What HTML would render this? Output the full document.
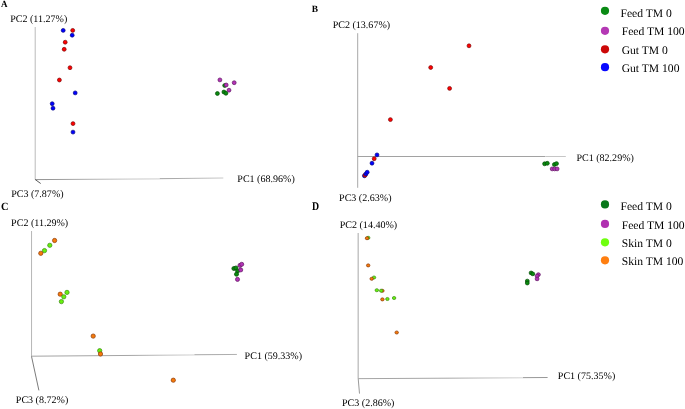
<!DOCTYPE html>
<html><head><meta charset="utf-8"><title>PCoA</title>
<style>
html,body{margin:0;padding:0;background:#fff;}
svg{display:block;font-family:"Liberation Serif",serif;fill:#000;}
text{text-rendering:geometricPrecision;filter:blur(0.25px);}
</style></head><body>
<svg width="685" height="409" viewBox="0 0 685 409">
<rect width="685" height="409" fill="#fff"/>
<text transform="translate(0.9,6.8) scale(0.97,1)" font-size="9.3" font-weight="bold">A</text>
<text x="10.2" y="22" font-size="10.05">PC2 (11.27%)</text>
<text x="11.15" y="197" font-size="10.05">PC3 (7.87%)</text>
<text x="237.3" y="182" font-size="10.05">PC1 (68.96%)</text>
<line x1="35.2" y1="27.0" x2="35.2" y2="179.5" stroke="#bababa" stroke-width="1"/>
<linearGradient id="g1" gradientUnits="userSpaceOnUse" x1="35.2" y1="179.6" x2="159.7" y2="178.9"><stop offset="0" stop-color="#8e8e8e"/><stop offset="0.75" stop-color="#c6c6c6"/><stop offset="1" stop-color="#cecece"/></linearGradient>
<line x1="35.2" y1="179.6" x2="159.7" y2="178.9" stroke="url(#g1)" stroke-width="1"/>
<linearGradient id="g2" gradientUnits="userSpaceOnUse" x1="159.7" y1="178.7" x2="223.3" y2="178.0"><stop offset="0" stop-color="#a0a0a0"/><stop offset="1" stop-color="#c8c8c8"/></linearGradient>
<line x1="159.7" y1="178.7" x2="223.3" y2="178.0" stroke="url(#g2)" stroke-width="1"/>
<line x1="35.2" y1="179.5" x2="40.7" y2="183.5" stroke="#5a5a5a" stroke-width="1"/>
<ellipse cx="63.2" cy="30.4" rx="1.9500000000000002" ry="1.9500000000000002" fill="#0000ff" stroke="#0a0a80" stroke-width="0.7"/>
<ellipse cx="72.7" cy="30.4" rx="1.9500000000000002" ry="1.9500000000000002" fill="#ff0000" stroke="#7a0a0a" stroke-width="0.7"/>
<ellipse cx="72.2" cy="35.2" rx="1.9500000000000002" ry="1.9500000000000002" fill="#0000ff" stroke="#0a0a80" stroke-width="0.7"/>
<ellipse cx="65.2" cy="42.2" rx="1.9500000000000002" ry="1.9500000000000002" fill="#ff0000" stroke="#7a0a0a" stroke-width="0.7"/>
<ellipse cx="64.2" cy="49.3" rx="1.9500000000000002" ry="1.9500000000000002" fill="#ff0000" stroke="#7a0a0a" stroke-width="0.7"/>
<ellipse cx="70.0" cy="67.7" rx="1.9500000000000002" ry="1.9500000000000002" fill="#ff0000" stroke="#7a0a0a" stroke-width="0.7"/>
<ellipse cx="59.4" cy="80.0" rx="1.9500000000000002" ry="1.9500000000000002" fill="#ff0000" stroke="#7a0a0a" stroke-width="0.7"/>
<ellipse cx="75.2" cy="92.9" rx="1.9500000000000002" ry="1.9500000000000002" fill="#0000ff" stroke="#0a0a80" stroke-width="0.7"/>
<ellipse cx="52.2" cy="103.7" rx="1.9500000000000002" ry="1.9500000000000002" fill="#0000ff" stroke="#0a0a80" stroke-width="0.7"/>
<ellipse cx="53.0" cy="108.2" rx="1.9500000000000002" ry="1.9500000000000002" fill="#0000ff" stroke="#0a0a80" stroke-width="0.7"/>
<ellipse cx="73.0" cy="123.6" rx="1.9500000000000002" ry="1.9500000000000002" fill="#ff0000" stroke="#7a0a0a" stroke-width="0.7"/>
<ellipse cx="73.0" cy="132.1" rx="1.9500000000000002" ry="1.9500000000000002" fill="#0000ff" stroke="#0a0a80" stroke-width="0.7"/>
<ellipse cx="217.4" cy="93.5" rx="1.9500000000000002" ry="1.9500000000000002" fill="#0a8a10" stroke="#044a06" stroke-width="0.7"/>
<ellipse cx="223.9" cy="92.0" rx="1.9500000000000002" ry="1.9500000000000002" fill="#0a8a10" stroke="#044a06" stroke-width="0.7"/>
<ellipse cx="225.9" cy="93.3" rx="1.9500000000000002" ry="1.9500000000000002" fill="#0a8a10" stroke="#044a06" stroke-width="0.7"/>
<ellipse cx="224.7" cy="85.5" rx="1.9500000000000002" ry="1.9500000000000002" fill="#0a8a10" stroke="#044a06" stroke-width="0.7"/>
<ellipse cx="219.9" cy="79.9" rx="1.9500000000000002" ry="1.9500000000000002" fill="#b432b6" stroke="#5e1a62" stroke-width="0.7"/>
<ellipse cx="234.2" cy="82.7" rx="1.9500000000000002" ry="1.9500000000000002" fill="#b432b6" stroke="#5e1a62" stroke-width="0.7"/>
<ellipse cx="226.2" cy="85.0" rx="1.9500000000000002" ry="1.9500000000000002" fill="#b432b6" stroke="#5e1a62" stroke-width="0.7"/>
<ellipse cx="229.0" cy="90.2" rx="1.9500000000000002" ry="1.9500000000000002" fill="#b432b6" stroke="#5e1a62" stroke-width="0.7"/>
<text transform="translate(311.8,11.7) scale(0.97,1)" font-size="9.7" font-weight="bold">B</text>
<text x="332.65" y="28" font-size="10.05">PC2 (13.67%)</text>
<text x="339.05" y="201" font-size="10.05">PC3 (2.63%)</text>
<text x="576.4" y="161" font-size="10.05">PC1 (82.29%)</text>
<line x1="357.7" y1="33.2" x2="357.7" y2="187.8" stroke="#a8a8a8" stroke-width="1"/>
<line x1="357.7" y1="156.5" x2="545.3" y2="156.5" stroke="#a2a2a2" stroke-width="1"/>
<line x1="545.3" y1="156.5" x2="565.8" y2="156.5" stroke="#c6c6c6" stroke-width="1"/>
<ellipse cx="469.0" cy="45.8" rx="1.9500000000000002" ry="1.9500000000000002" fill="#ff0000" stroke="#7a0a0a" stroke-width="0.7"/>
<ellipse cx="430.7" cy="67.5" rx="1.9500000000000002" ry="1.9500000000000002" fill="#ff0000" stroke="#7a0a0a" stroke-width="0.7"/>
<ellipse cx="449.6" cy="88.4" rx="1.9500000000000002" ry="1.9500000000000002" fill="#ff0000" stroke="#7a0a0a" stroke-width="0.7"/>
<ellipse cx="390.4" cy="119.6" rx="1.9500000000000002" ry="1.9500000000000002" fill="#ff0000" stroke="#7a0a0a" stroke-width="0.7"/>
<ellipse cx="377.0" cy="154.9" rx="1.9500000000000002" ry="1.9500000000000002" fill="#0000ff" stroke="#0a0a80" stroke-width="0.7"/>
<ellipse cx="374.2" cy="158.7" rx="1.9500000000000002" ry="1.9500000000000002" fill="#ff0000" stroke="#7a0a0a" stroke-width="0.7"/>
<ellipse cx="372.0" cy="163.2" rx="1.9500000000000002" ry="1.9500000000000002" fill="#0000ff" stroke="#0a0a80" stroke-width="0.7"/>
<ellipse cx="364.4" cy="175.8" rx="1.9500000000000002" ry="1.9500000000000002" fill="#0000ff" stroke="#0a0a80" stroke-width="0.7"/>
<ellipse cx="365.1" cy="175.2" rx="1.9500000000000002" ry="1.9500000000000002" fill="#ff0000" stroke="#7a0a0a" stroke-width="0.7"/>
<ellipse cx="365.9" cy="173.9" rx="1.9500000000000002" ry="1.9500000000000002" fill="#0000ff" stroke="#0a0a80" stroke-width="0.7"/>
<ellipse cx="367.2" cy="172.2" rx="1.9500000000000002" ry="1.9500000000000002" fill="#0000ff" stroke="#0a0a80" stroke-width="0.7"/>
<ellipse cx="544.6" cy="163.8" rx="1.9500000000000002" ry="1.9500000000000002" fill="#0a8a10" stroke="#044a06" stroke-width="0.7"/>
<ellipse cx="547.3" cy="163.3" rx="1.9500000000000002" ry="1.9500000000000002" fill="#0a8a10" stroke="#044a06" stroke-width="0.7"/>
<ellipse cx="554.4" cy="164.5" rx="1.9500000000000002" ry="1.9500000000000002" fill="#0a8a10" stroke="#044a06" stroke-width="0.7"/>
<ellipse cx="556.5" cy="163.6" rx="1.9500000000000002" ry="1.9500000000000002" fill="#0a8a10" stroke="#044a06" stroke-width="0.7"/>
<ellipse cx="552.2" cy="168.9" rx="1.9500000000000002" ry="1.9500000000000002" fill="#b432b6" stroke="#5e1a62" stroke-width="0.7"/>
<ellipse cx="554.7" cy="168.9" rx="1.9500000000000002" ry="1.9500000000000002" fill="#b432b6" stroke="#5e1a62" stroke-width="0.7"/>
<ellipse cx="557.1" cy="168.9" rx="1.9500000000000002" ry="1.9500000000000002" fill="#b432b6" stroke="#5e1a62" stroke-width="0.7"/>
<text transform="translate(1.0,210.45) scale(0.93,1)" font-size="11.1" font-weight="bold">C</text>
<text x="11.1" y="226" font-size="10.05">PC2 (11.29%)</text>
<text x="15.8" y="403" font-size="10.05">PC3 (8.72%)</text>
<text x="244.6" y="359" font-size="10.05">PC1 (59.33%)</text>
<line x1="31.55" y1="231.0" x2="31.55" y2="356.3" stroke="#b6b6b6" stroke-width="1"/>
<linearGradient id="g3" gradientUnits="userSpaceOnUse" x1="31.5" y1="356.2" x2="194.4" y2="354.95"><stop offset="0" stop-color="#a2a2a2"/><stop offset="0.6" stop-color="#a4a4a4"/><stop offset="1" stop-color="#d2d2d2"/></linearGradient>
<line x1="31.5" y1="356.2" x2="194.4" y2="354.95" stroke="url(#g3)" stroke-width="1"/>
<linearGradient id="g4" gradientUnits="userSpaceOnUse" x1="194.4" y1="354.75" x2="236.9" y2="354.45"><stop offset="0" stop-color="#a4a4a4"/><stop offset="1" stop-color="#b0b0b0"/></linearGradient>
<line x1="194.4" y1="354.75" x2="236.9" y2="354.45" stroke="url(#g4)" stroke-width="1"/>
<line x1="31.5" y1="356.3" x2="38.9" y2="390.4" stroke="#7c7c7c" stroke-width="1"/>
<ellipse cx="54.6" cy="240.5" rx="2.15" ry="2.15" fill="#f57a0a" stroke="#8a3a0a" stroke-width="0.7"/>
<ellipse cx="49.8" cy="245.3" rx="2.15" ry="2.15" fill="#66f010" stroke="#3c8a10" stroke-width="0.7"/>
<ellipse cx="44.5" cy="250.6" rx="2.15" ry="2.15" fill="#66f010" stroke="#3c8a10" stroke-width="0.7"/>
<ellipse cx="40.8" cy="253.3" rx="2.15" ry="2.15" fill="#f57a0a" stroke="#8a3a0a" stroke-width="0.7"/>
<ellipse cx="60.2" cy="294.2" rx="2.15" ry="2.15" fill="#f57a0a" stroke="#8a3a0a" stroke-width="0.7"/>
<ellipse cx="67.0" cy="292.4" rx="2.15" ry="2.15" fill="#66f010" stroke="#3c8a10" stroke-width="0.7"/>
<ellipse cx="63.8" cy="296.8" rx="2.15" ry="2.15" fill="#66f010" stroke="#3c8a10" stroke-width="0.7"/>
<ellipse cx="61.4" cy="301.6" rx="2.15" ry="2.15" fill="#66f010" stroke="#3c8a10" stroke-width="0.7"/>
<ellipse cx="93.2" cy="336.1" rx="2.15" ry="2.15" fill="#f57a0a" stroke="#8a3a0a" stroke-width="0.7"/>
<ellipse cx="99.7" cy="350.7" rx="2.15" ry="2.15" fill="#66f010" stroke="#3c8a10" stroke-width="0.7"/>
<ellipse cx="100.5" cy="354.0" rx="2.15" ry="2.15" fill="#f57a0a" stroke="#8a3a0a" stroke-width="0.7"/>
<ellipse cx="173.3" cy="380.2" rx="2.15" ry="2.15" fill="#f57a0a" stroke="#8a3a0a" stroke-width="0.7"/>
<ellipse cx="233.9" cy="268.5" rx="2.05" ry="2.05" fill="#0a8a10" stroke="#044a06" stroke-width="0.7"/>
<ellipse cx="236.0" cy="268.0" rx="2.05" ry="2.05" fill="#0a8a10" stroke="#044a06" stroke-width="0.7"/>
<ellipse cx="237.6" cy="271.0" rx="2.05" ry="2.05" fill="#0a8a10" stroke="#044a06" stroke-width="0.7"/>
<ellipse cx="236.5" cy="274.2" rx="2.05" ry="2.05" fill="#0a8a10" stroke="#044a06" stroke-width="0.7"/>
<ellipse cx="240.0" cy="265.4" rx="2.05" ry="2.05" fill="#b432b6" stroke="#5e1a62" stroke-width="0.7"/>
<ellipse cx="241.7" cy="264.3" rx="2.05" ry="2.05" fill="#b432b6" stroke="#5e1a62" stroke-width="0.7"/>
<ellipse cx="240.7" cy="269.9" rx="2.05" ry="2.05" fill="#b432b6" stroke="#5e1a62" stroke-width="0.7"/>
<ellipse cx="237.5" cy="279.4" rx="2.05" ry="2.05" fill="#b432b6" stroke="#5e1a62" stroke-width="0.7"/>
<text transform="translate(312.1,210.4) scale(0.835,1)" font-size="11.8" font-weight="bold">D</text>
<text x="339.7" y="228" font-size="10.05">PC2 (14.40%)</text>
<text x="342.0" y="406" font-size="10.05">PC3 (2.86%)</text>
<text x="557.8" y="379" font-size="10.05">PC1 (75.35%)</text>
<line x1="358.2" y1="233.1" x2="358.2" y2="378.5" stroke="#bcbcbc" stroke-width="1.3"/>
<linearGradient id="g5" gradientUnits="userSpaceOnUse" x1="358.2" y1="378.65" x2="523" y2="377.8"><stop offset="0" stop-color="#a4a4a4"/><stop offset="0.55" stop-color="#a6a6a6"/><stop offset="1" stop-color="#d4d4d4"/></linearGradient>
<line x1="358.2" y1="378.65" x2="523" y2="377.8" stroke="url(#g5)" stroke-width="1"/>
<line x1="523" y1="377.65" x2="547.6" y2="377.5" stroke="#989898" stroke-width="1"/>
<line x1="358.2" y1="378.5" x2="359.5" y2="393.6" stroke="#9a9a9a" stroke-width="1"/>
<ellipse cx="368.2" cy="237.8" rx="1.75" ry="1.55" fill="#66f010" stroke="#3c8a10" stroke-width="0.7"/>
<ellipse cx="367.0" cy="238.2" rx="1.75" ry="1.55" fill="#f57a0a" stroke="#8a3a0a" stroke-width="0.7"/>
<ellipse cx="368.2" cy="265.4" rx="1.75" ry="1.55" fill="#f57a0a" stroke="#8a3a0a" stroke-width="0.7"/>
<ellipse cx="374.0" cy="277.5" rx="1.75" ry="1.55" fill="#66f010" stroke="#3c8a10" stroke-width="0.7"/>
<ellipse cx="371.7" cy="278.8" rx="1.75" ry="1.55" fill="#f57a0a" stroke="#8a3a0a" stroke-width="0.7"/>
<ellipse cx="376.8" cy="290.2" rx="1.75" ry="1.55" fill="#66f010" stroke="#3c8a10" stroke-width="0.7"/>
<ellipse cx="382.4" cy="290.8" rx="1.75" ry="1.55" fill="#f57a0a" stroke="#8a3a0a" stroke-width="0.7"/>
<ellipse cx="381.2" cy="290.7" rx="1.75" ry="1.55" fill="#66f010" stroke="#3c8a10" stroke-width="0.7"/>
<ellipse cx="382.4" cy="299.4" rx="1.75" ry="1.55" fill="#f57a0a" stroke="#8a3a0a" stroke-width="0.7"/>
<ellipse cx="387.4" cy="299.0" rx="1.75" ry="1.55" fill="#66f010" stroke="#3c8a10" stroke-width="0.7"/>
<ellipse cx="394.1" cy="298.0" rx="1.75" ry="1.55" fill="#66f010" stroke="#3c8a10" stroke-width="0.7"/>
<ellipse cx="396.7" cy="332.5" rx="1.75" ry="1.55" fill="#f57a0a" stroke="#8a3a0a" stroke-width="0.7"/>
<ellipse cx="531.1" cy="272.9" rx="1.9500000000000002" ry="1.85" fill="#0a8a10" stroke="#044a06" stroke-width="0.7"/>
<ellipse cx="532.8" cy="273.9" rx="1.9500000000000002" ry="1.85" fill="#0a8a10" stroke="#044a06" stroke-width="0.7"/>
<ellipse cx="527.3" cy="281.0" rx="1.9500000000000002" ry="1.85" fill="#0a8a10" stroke="#044a06" stroke-width="0.7"/>
<ellipse cx="527.3" cy="283.1" rx="1.9500000000000002" ry="1.85" fill="#0a8a10" stroke="#044a06" stroke-width="0.7"/>
<ellipse cx="538.4" cy="274.6" rx="1.9500000000000002" ry="1.85" fill="#b432b6" stroke="#5e1a62" stroke-width="0.7"/>
<ellipse cx="537.1" cy="276.0" rx="1.9500000000000002" ry="1.85" fill="#b432b6" stroke="#5e1a62" stroke-width="0.7"/>
<ellipse cx="537.1" cy="278.9" rx="1.9500000000000002" ry="1.85" fill="#b432b6" stroke="#5e1a62" stroke-width="0.7"/>
<circle cx="605" cy="10.8" r="4.1" fill="#0a8a14"/>
<text x="620.5" y="16.6" font-size="11.6">Feed TM 0</text>
<circle cx="605" cy="30.8" r="4.1" fill="#b438b4"/>
<text x="621.6999999999999" y="35.4" font-size="11.6">Feed TM 100</text>
<circle cx="605" cy="49.3" r="4.1" fill="#cc0808"/>
<text x="621.6999999999999" y="53.6" font-size="11.6">Gut TM 0</text>
<circle cx="605" cy="67.2" r="4.1" fill="#0808ff"/>
<text x="621.6999999999999" y="71.8" font-size="11.6">Gut TM 100</text>
<circle cx="605" cy="204.4" r="4.1" fill="#08781a"/>
<text x="620.5" y="209.75" font-size="11.6">Feed TM 0</text>
<circle cx="605" cy="223.9" r="4.1" fill="#b030b0"/>
<text x="621.6999999999999" y="228.5" font-size="11.6">Feed TM 100</text>
<circle cx="605" cy="242.3" r="4.1" fill="#70ff10"/>
<text x="621.6999999999999" y="246.8" font-size="11.6">Skin TM 0</text>
<circle cx="605" cy="260.3" r="4.1" fill="#ff7f10"/>
<text x="621.6999999999999" y="264.8" font-size="11.6">Skin TM 100</text>
</svg>
</body></html>
